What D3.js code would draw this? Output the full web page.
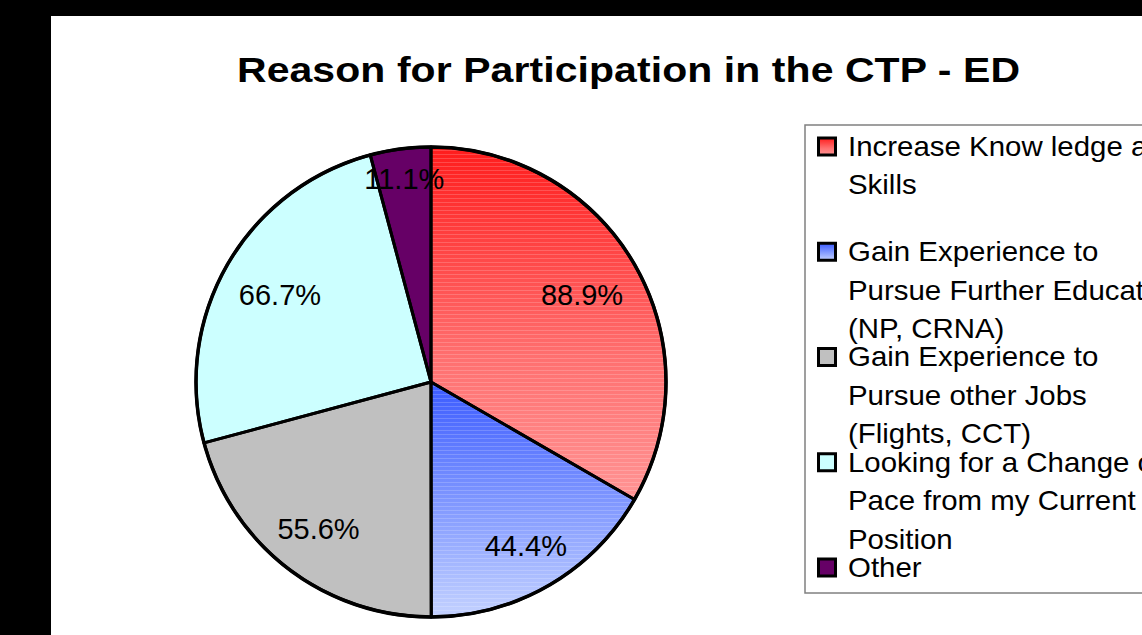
<!DOCTYPE html>
<html>
<head>
<meta charset="utf-8">
<script src="https://cdn.jsdelivr.net/npm/d3@7/dist/d3.min.js"></script>
<style>
  html, body { margin: 0; padding: 0; background: #000; overflow: hidden; }
  svg { display: block; }
  text { font-family: "Liberation Sans", Arial, sans-serif; }
</style>
</head>
<body>
<svg id="chart" width="1142" height="635"></svg>
<script>
// ---- data ----
const title = "Reason for Participation in the CTP - ED";
const categories = [
  "Increase Knowledge and Skills",
  "Gain Experience to Pursue Further Education (NP, CRNA)",
  "Gain Experience to Pursue other Jobs (Flights, CCT)",
  "Looking for a Change of Pace from my Current Position",
  "Other"
];
const values = [88.9, 44.4, 55.6, 66.7, 11.1];
const legendLines = [
  ["Increase Know ledge and", "Skills"],
  ["Gain Experience to", "Pursue Further Education", "(NP, CRNA)"],
  ["Gain Experience to", "Pursue other Jobs", "(Flights, CCT)"],
  ["Looking for a Change of", "Pace from my Current", "Position"],
  ["Other"]
];
const fillTop    = ["#ff1c1c", "#3a5aff", "#c0c0c0", "#ccffff", "#660066"];
const fillMid    = ["#ff7070", "#8ca2ff", "#c0c0c0", "#ccffff", "#660066"];
const fillBottom = ["#ff9494", "#c4d2ff", "#c0c0c0", "#ccffff", "#660066"];
const striped    = [true, true, false, false, false];

// ---- layout ----
const W = 1142, H = 635;
const svg = d3.select("#chart");
svg.append("rect").attr("x", 0).attr("y", 0).attr("width", W).attr("height", H).attr("fill", "#000");
svg.append("rect").attr("x", 51).attr("y", 16).attr("width", W - 51).attr("height", H - 16).attr("fill", "#fff");

const defs = svg.append("defs");
categories.forEach((c, i) => {
  const g = defs.append("linearGradient").attr("id", "grad" + i)
    .attr("x1", 0).attr("y1", 0).attr("x2", 0).attr("y2", 1);
  g.append("stop").attr("offset", "0%").attr("stop-color", fillTop[i]);
  g.append("stop").attr("offset", "60%").attr("stop-color", fillMid[i]);
  g.append("stop").attr("offset", "100%").attr("stop-color", fillBottom[i]);
});
const pat = defs.append("pattern").attr("id", "stripes")
  .attr("patternUnits", "userSpaceOnUse").attr("width", 8).attr("height", 4);
pat.append("rect").attr("x", 0).attr("y", 0).attr("width", 8).attr("height", 1)
  .attr("fill", "#fff").attr("opacity", 0.18);

// title (wide glyphs, as in the original rendering)
const titleScale = 1.17;
svg.append("text")
  .attr("transform", `translate(628.5,82) scale(${titleScale},1)`)
  .attr("x", 0).attr("y", 0)
  .attr("text-anchor", "middle")
  .attr("font-size", 35).attr("font-weight", "bold")
  .attr("textLength", 783 / titleScale).attr("lengthAdjust", "spacing")
  .attr("fill", "#000")
  .text(title);

// pie
const cx = 431, cy = 382, R = 235;
const pie = d3.pie().sort(null).value(d => d).startAngle(0).endAngle(2 * Math.PI);
const arcs = pie(values);
const arc = d3.arc().innerRadius(0).outerRadius(R);
const gPie = svg.append("g").attr("transform", `translate(${cx},${cy})`);

gPie.selectAll("path.slice").data(arcs).join("path")
  .attr("class", "slice")
  .attr("d", arc)
  .attr("fill", (d, i) => `url(#grad${i})`);
gPie.selectAll("path.stripe").data(arcs.filter((d, i) => striped[i])).join("path")
  .attr("class", "stripe")
  .attr("d", arc)
  .attr("fill", "url(#stripes)");
gPie.selectAll("path.edge").data(arcs).join("path")
  .attr("class", "edge")
  .attr("d", arc)
  .attr("fill", "none")
  .attr("stroke", "#000").attr("stroke-width", 3).attr("stroke-linejoin", "round");
gPie.append("circle").attr("r", R).attr("fill", "none")
  .attr("stroke", "#000").attr("stroke-width", 3.5);

// labels: pulled inward from a fixed radius by the horizontal half-width of the label
const fmt = d3.format(".1f");
const labelFont = 29;
const labelRadius = 210;
const labels = gPie.selectAll("text.lab").data(arcs).join("text")
  .attr("class", "lab")
  .attr("font-size", labelFont)
  .attr("fill", "#000")
  .attr("text-anchor", "middle")
  .text(d => fmt(d.data) + "%");
labels.each(function(d) {
  const bb = this.getBBox();
  const w = bb.width / 2, h = 0.716 * labelFont / 2;
  const a = (d.startAngle + d.endAngle) / 2;
  const ux = Math.sin(a), uy = -Math.cos(a);
  const dist = labelRadius - Math.abs(ux) * w;
  d3.select(this)
    .attr("x", ux * dist)
    .attr("y", uy * dist + h);
});

// legend
const lgX = 805, lgY = 125, lgBottom = 593;
svg.append("rect")
  .attr("x", lgX).attr("y", lgY).attr("width", W - lgX + 10).attr("height", lgBottom - lgY)
  .attr("fill", "#fff").attr("stroke", "#808080").attr("stroke-width", 1.5);

const yItem = d3.scalePoint().domain(categories).range([156, 577]);
const lineGap = 38.5;
const textX = 848, legendScale = 1.09;
const gLeg = svg.append("g");
categories.forEach((c, i) => {
  const base = yItem(c);
  gLeg.append("rect")
    .attr("x", 818.5).attr("y", base - 18).attr("width", 17).attr("height", 17)
    .attr("fill", `url(#grad${i})`).attr("stroke", "#000").attr("stroke-width", 3);
  const t = gLeg.append("text")
    .attr("transform", `translate(${textX},0) scale(${legendScale},1)`)
    .attr("font-size", 27).attr("fill", "#000");
  legendLines[i].forEach((ln, k) => {
    t.append("tspan").attr("x", 0).attr("y", base + k * lineGap).text(ln);
  });
});
</script>
</body>
</html>
